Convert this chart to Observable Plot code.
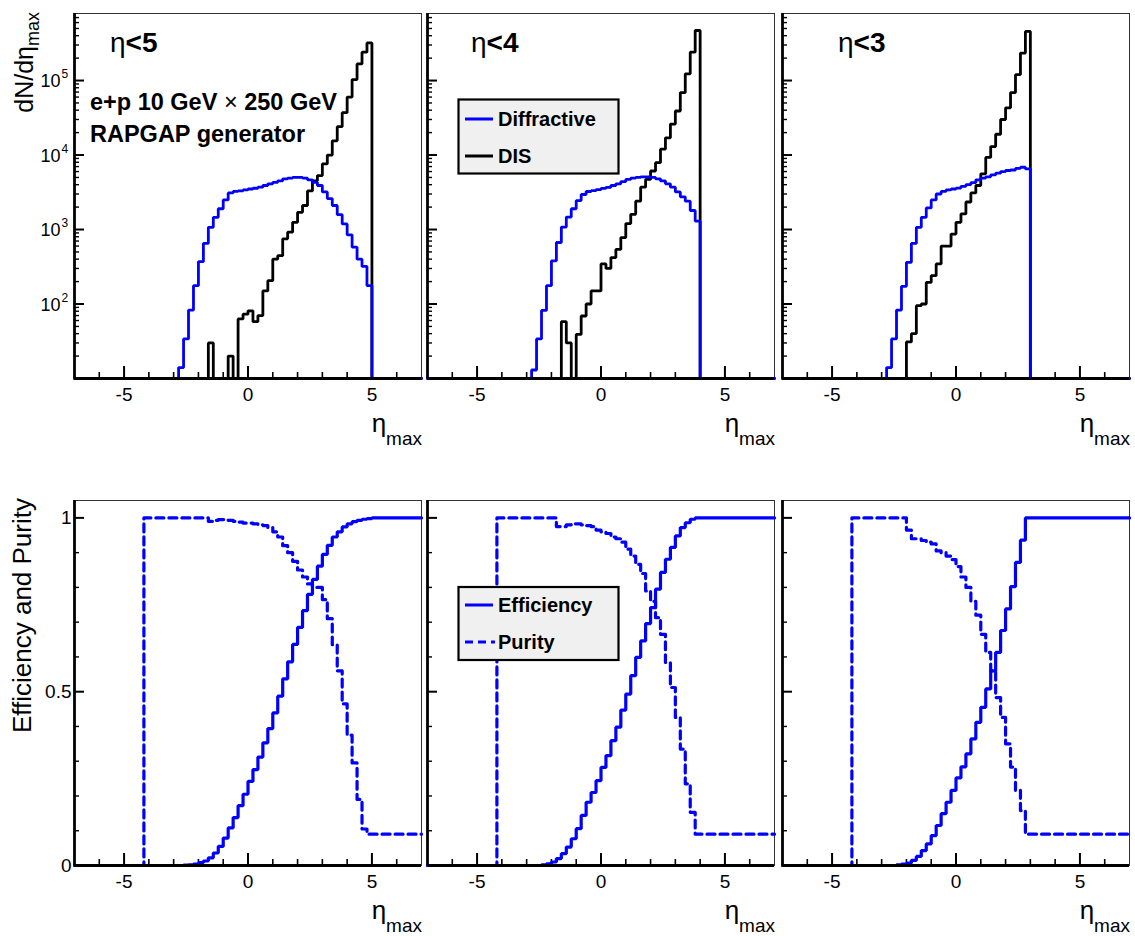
<!DOCTYPE html>
<html><head><meta charset="utf-8">
<script src="https://cdn.jsdelivr.net/npm/d3@7"></script>
<script src="https://cdn.jsdelivr.net/npm/@observablehq/plot@0.6"></script>
<style>
body{margin:0;background:#fff;}
#root{position:relative;width:1135px;height:936px;font-family:"Liberation Sans",Arial,Helvetica,sans-serif;overflow:hidden;}
#overlay{position:absolute;left:0;top:0;pointer-events:none;}
</style></head><body><div id="root"></div>
<script>
// ---------------- data ----------------
const binWidth = 0.2;
const etaRange = [-7, 7];
const cutLabels = ["<5", "<4", "<3"];
const xTickLabels = [-5, 0, 5];
const xMinorTicks = [-6, -4, -3, -2, -1, 1, 2, 3, 4, 6];
const logLabelExponents = [2, 3, 4, 5];
const effTickLabels = [0, 0.5, 1];
const effMinorTicks = [0.1, 0.2, 0.3, 0.4, 0.6, 0.7, 0.8, 0.9];

// dN/deta_max histograms (first bin lower edge, contents per 0.2 bin)
const diff5Start = -2.8;
const diff5 = [14,34,83,176,370,650,1070,1460,1900,2500,3100,3250,3300,3400,3500,3580,3700,3900,4100,4300,4500,4800,4900,5000,5000,4900,4650,4300,3900,3200,2600,2100,1580,1190,850,580,400,320,176];
const dis5Start = -1.6;
const dis5 = [30,0,0,0,20,0,63,73,81,58,70,150,206,400,445,750,920,1250,1700,2100,3300,4500,5300,7600,10000,15500,24000,37000,60000,103000,167000,240000,320000];
const diff4Start = -2.8;
const diff4 = [13,34,82,176,380,670,1080,1470,1900,2450,2950,3240,3320,3430,3560,3690,3900,4100,4400,4700,4900,5000,5100,5100,5000,4800,4500,4100,3700,3200,2750,2400,1800,1300];
const dis4Start = -1.6;
const dis4 = [58,30,0,39,69,100,150,150,345,300,420,540,780,1200,1600,2400,3700,4700,6100,7900,12000,17000,26000,39000,69000,123000,240000,470000];
const diff3Start = -2.8;
const diff3 = [14,34,83,173,363,650,1070,1460,1950,2500,3000,3250,3400,3500,3600,3800,4000,4250,4650,4900,5100,5400,5700,6000,6200,6300,6600,6850,6500];
const dis3Start = -2.0;
const dis3 = [31,40,95,100,195,240,345,600,600,870,1250,1620,2340,3100,3900,5600,9300,13000,19000,30000,43000,69000,120000,234000,457000];

// efficiency and purity (first bin lower edge, last value holds to the end)
const eff5Start = -2.6;
const eff5 = [0.001,0.002,0.004,0.008,0.013,0.022,0.036,0.055,0.079,0.108,0.138,0.172,0.205,0.242,0.276,0.312,0.353,0.394,0.439,0.487,0.537,0.586,0.636,0.685,0.733,0.780,0.823,0.861,0.895,0.921,0.945,0.960,0.974,0.983,0.989,0.993,0.996,0.998,1.0];
const pur5Start = -4.2;
const pur5 = [1,1,1,1,1,1,1,1,1,1,1,1,1,0.99,0.993,0.995,0.995,0.993,0.99,0.988,0.985,0.985,0.983,0.98,0.978,0.972,0.96,0.945,0.92,0.90,0.875,0.85,0.83,0.81,0.80,0.80,0.765,0.71,0.635,0.56,0.465,0.375,0.295,0.19,0.105,0.09];
const eff4Start = -2.4;
const eff4 = [0.002,0.005,0.010,0.020,0.034,0.053,0.077,0.106,0.144,0.182,0.21,0.244,0.282,0.316,0.359,0.398,0.447,0.493,0.546,0.599,0.646,0.696,0.742,0.795,0.843,0.881,0.915,0.948,0.972,0.986,0.996,1.0];
const pur4Start = -4.2;
const pur4 = [1,1,1,1,1,1,1,1,1,1,1,1,0.975,0.975,0.98,0.983,0.983,0.98,0.978,0.975,0.965,0.96,0.955,0.945,0.94,0.93,0.91,0.89,0.866,0.84,0.79,0.76,0.713,0.665,0.584,0.512,0.426,0.335,0.235,0.153,0.09];
const eff3Start = -2.4;
const eff3 = [0.002,0.004,0.007,0.015,0.026,0.043,0.062,0.086,0.115,0.149,0.182,0.216,0.252,0.284,0.321,0.364,0.412,0.455,0.508,0.56,0.613,0.676,0.738,0.802,0.872,0.936,1.0];
const pur3Start = -4.2;
const pur3 = [1,1,1,1,1,1,1,1,1,1,1,0.965,0.94,0.94,0.935,0.93,0.925,0.905,0.90,0.89,0.88,0.86,0.83,0.80,0.76,0.72,0.665,0.613,0.56,0.483,0.426,0.35,0.283,0.216,0.158,0.09];

// ---------------- helpers ----------------
function steps(start, vals, hold) {
  const pts = [{x: etaRange[0], y: 0}];
  vals.forEach((v, i) => pts.push({x: +(start + i * binWidth).toFixed(3), y: v}));
  if (hold) pts.push({x: etaRange[1], y: vals[vals.length - 1]});
  else {
    pts.push({x: +(start + vals.length * binWidth).toFixed(3), y: 0});
    pts.push({x: etaRange[1], y: 0});
  }
  return pts;
}

const BLUE = "#0000ff";
const FW = 347, FH = 365;
const frameLefts = [74, 427, 782];
const rowTops = [0, 470];
const rowMarginTop = [13, 30];
const yLogDomain = [10, Math.pow(10, 5.9)];
const logMinor = [];
for (const e of [1, 2, 3, 4, 5]) for (let m = 2; m <= 9; m++) { const v = m * Math.pow(10, e); if (v < yLogDomain[1]) logMinor.push(v); }
const logMajor = [100, 1000, 10000, 100000];

const root = document.getElementById("root");

function commonAxes(W, H) {
  return [
    Plot.ruleX(xMinorTicks, {x: d => d, insetTop: H - 6, stroke: "#000", strokeWidth: 1.6}),
    Plot.ruleX(xTickLabels, {x: d => d, insetTop: H - 12, stroke: "#000", strokeWidth: 2}),
  ];
}

function topPanel(p, diffStart, diff, disStart, dis) {
  const ml = p === 0 ? 74 : 6, mr = 6, mt = rowMarginTop[0], mb = 72;
  const width = ml + FW + mr, height = mt + FH + mb;
  const yc = d => Math.max(d.y, yLogDomain[0]);
  const marks = [
    Plot.frame({stroke: "#333", strokeWidth: 1}),
    ...commonAxes(FW, FH),
    Plot.ruleY(logMinor, {y: d => d, insetRight: FW - 5, stroke: "#000", strokeWidth: 1.4}),
    Plot.ruleY(logMajor, {y: d => d, insetRight: FW - 10, stroke: "#000", strokeWidth: 2}),
    Plot.line(steps(disStart, dis, false), {x: "x", y: yc, curve: "step-after", stroke: "#000", strokeWidth: 2.8, strokeLinejoin: "miter"}),
    Plot.line(steps(diffStart, diff, false), {x: "x", y: yc, curve: "step-after", stroke: BLUE, strokeWidth: 2.8, strokeLinejoin: "miter"}),
    Plot.ruleX([etaRange[0]], {stroke: "#000", strokeWidth: 2.8}),
    Plot.ruleY([yLogDomain[0]], {stroke: "#000", strokeWidth: 2.8}),
    Plot.text(xTickLabels, {x: d => d, frameAnchor: "bottom", dy: 22, lineAnchor: "bottom", text: d => String(d), fontSize: 19, fill: "#000"})
  ];
  if (p === 0) {
    marks.push(Plot.text(logLabelExponents, {y: d => Math.pow(10, d), frameAnchor: "left", dx: -14, dy: 1, textAnchor: "end", text: () => "10", fontSize: 18, fill: "#000"}));
    marks.push(Plot.text(logLabelExponents, {y: d => Math.pow(10, d), frameAnchor: "left", dx: -13, dy: -6, textAnchor: "start", text: d => String(d), fontSize: 12, fill: "#000"}));
  }
  const svg = Plot.plot({
    width, height, marginLeft: ml, marginRight: mr, marginTop: mt, marginBottom: mb,
    style: {background: "transparent", overflow: "visible", fontFamily: "Liberation Sans, Arial, sans-serif"},
    x: {domain: etaRange, axis: null},
    y: {type: "log", domain: yLogDomain, axis: null},
    marks
  });
  svg.style.position = "absolute";
  svg.style.left = (frameLefts[p] - ml) + "px";
  svg.style.top = rowTops[0] + "px";
  root.appendChild(svg);
}

function bottomPanel(p, effStart, eff, purStart, pur) {
  const ml = p === 0 ? 74 : 6, mr = 6, mt = rowMarginTop[1], mb = 71;
  const width = ml + FW + mr, height = mt + FH + mb;
  const marks = [
    Plot.frame({stroke: "#333", strokeWidth: 1}),
    ...commonAxes(FW, FH),
    Plot.ruleY(effMinorTicks, {y: d => d, insetRight: FW - 5, stroke: "#000", strokeWidth: 1.4}),
    Plot.ruleY(effTickLabels, {y: d => d, insetRight: FW - 10, stroke: "#000", strokeWidth: 2}),
    Plot.line(steps(effStart, eff, true), {x: "x", y: "y", curve: "step-after", stroke: BLUE, strokeWidth: 3.2, strokeLinejoin: "miter"}),
    Plot.line(steps(purStart, pur, true), {x: "x", y: "y", curve: "step-after", stroke: BLUE, strokeWidth: 3.2, strokeDasharray: "8,5"}),
    Plot.ruleX([etaRange[0]], {stroke: "#000", strokeWidth: 2.8}),
    Plot.ruleY([0], {stroke: "#000", strokeWidth: 2.8}),
    Plot.text(xTickLabels, {x: d => d, frameAnchor: "bottom", dy: 22, lineAnchor: "bottom", text: d => String(d), fontSize: 19, fill: "#000"})
  ];
  if (p === 0) {
    marks.push(Plot.text(effTickLabels, {y: d => d, frameAnchor: "left", dx: -3, textAnchor: "end", text: d => String(d), fontSize: 19, fill: "#000"}));
  }
  const svg = Plot.plot({
    width, height, marginLeft: ml, marginRight: mr, marginTop: mt, marginBottom: mb,
    style: {background: "transparent", overflow: "visible", fontFamily: "Liberation Sans, Arial, sans-serif"},
    x: {domain: etaRange, axis: null},
    y: {domain: [0, 1.05], axis: null},
    marks
  });
  svg.style.position = "absolute";
  svg.style.left = (frameLefts[p] - ml) + "px";
  svg.style.top = rowTops[1] + "px";
  root.appendChild(svg);
}

topPanel(0, diff5Start, diff5, dis5Start, dis5);
topPanel(1, diff4Start, diff4, dis4Start, dis4);
topPanel(2, diff3Start, diff3, dis3Start, dis3);
bottomPanel(0, eff5Start, eff5, pur5Start, pur5);
bottomPanel(1, eff4Start, eff4, pur4Start, pur4);
bottomPanel(2, eff3Start, eff3, pur3Start, pur3);

// ---------------- text overlay (titles, annotations, legends) ----------------
const ns = "http://www.w3.org/2000/svg";
const ov = document.createElementNS(ns, "svg");
ov.setAttribute("id", "overlay");
ov.setAttribute("width", 1135); ov.setAttribute("height", 936);
ov.setAttribute("font-family", "Liberation Sans, Arial, sans-serif");
let html = "";
const cutX = [110, 471, 838];
cutLabels.forEach((c, i) => {
  html += `<text x="${cutX[i]}" y="52" font-size="28">η<tspan font-weight="bold">${c.replace("<", "&lt;")}</tspan></text>`;
});
html += `<text x="90" y="110" font-size="23.5" font-weight="bold">e+p 10 GeV <tspan font-weight="normal">×</tspan> 250 GeV</text>`;
html += `<text x="90" y="142" font-size="23.5" font-weight="bold">RAPGAP generator</text>`;
html += `<text transform="translate(33,12) rotate(-90)" text-anchor="end" font-size="25">dN/dη<tspan dy="6" font-size="18">max</tspan></text>`;
html += `<text transform="translate(31,498) rotate(-90)" text-anchor="end" font-size="26">Efficiency and Purity</text>`;
frameLefts.forEach(fl => {
  [378, 865].forEach(yb => {
    html += `<text x="${fl + FW + 1}" y="${yb + 54}" text-anchor="end" font-size="26">η<tspan dy="13" font-size="19">max</tspan></text>`;
  });
});
html += `<rect x="458.5" y="99.5" width="160" height="74" fill="#f0f0f0" stroke="#000" stroke-width="2.2"/>`;
html += `<line x1="465" x2="493" y1="119" y2="119" stroke="${BLUE}" stroke-width="3"/>`;
html += `<text x="498" y="126" font-size="20" font-weight="bold">Diffractive</text>`;
html += `<line x1="465" x2="493" y1="156" y2="156" stroke="#000" stroke-width="3"/>`;
html += `<text x="498" y="163" font-size="20" font-weight="bold">DIS</text>`;
html += `<rect x="458.5" y="587" width="160" height="73" fill="#f0f0f0" stroke="#000" stroke-width="2.2"/>`;
html += `<line x1="465" x2="493" y1="605" y2="605" stroke="${BLUE}" stroke-width="3"/>`;
html += `<text x="498" y="612" font-size="20" font-weight="bold">Efficiency</text>`;
html += `<line x1="465" x2="495" y1="642" y2="642" stroke="${BLUE}" stroke-width="3" stroke-dasharray="8,5"/>`;
html += `<text x="498" y="649" font-size="20" font-weight="bold">Purity</text>`;
ov.innerHTML = html;
root.appendChild(ov);
</script></body></html>
